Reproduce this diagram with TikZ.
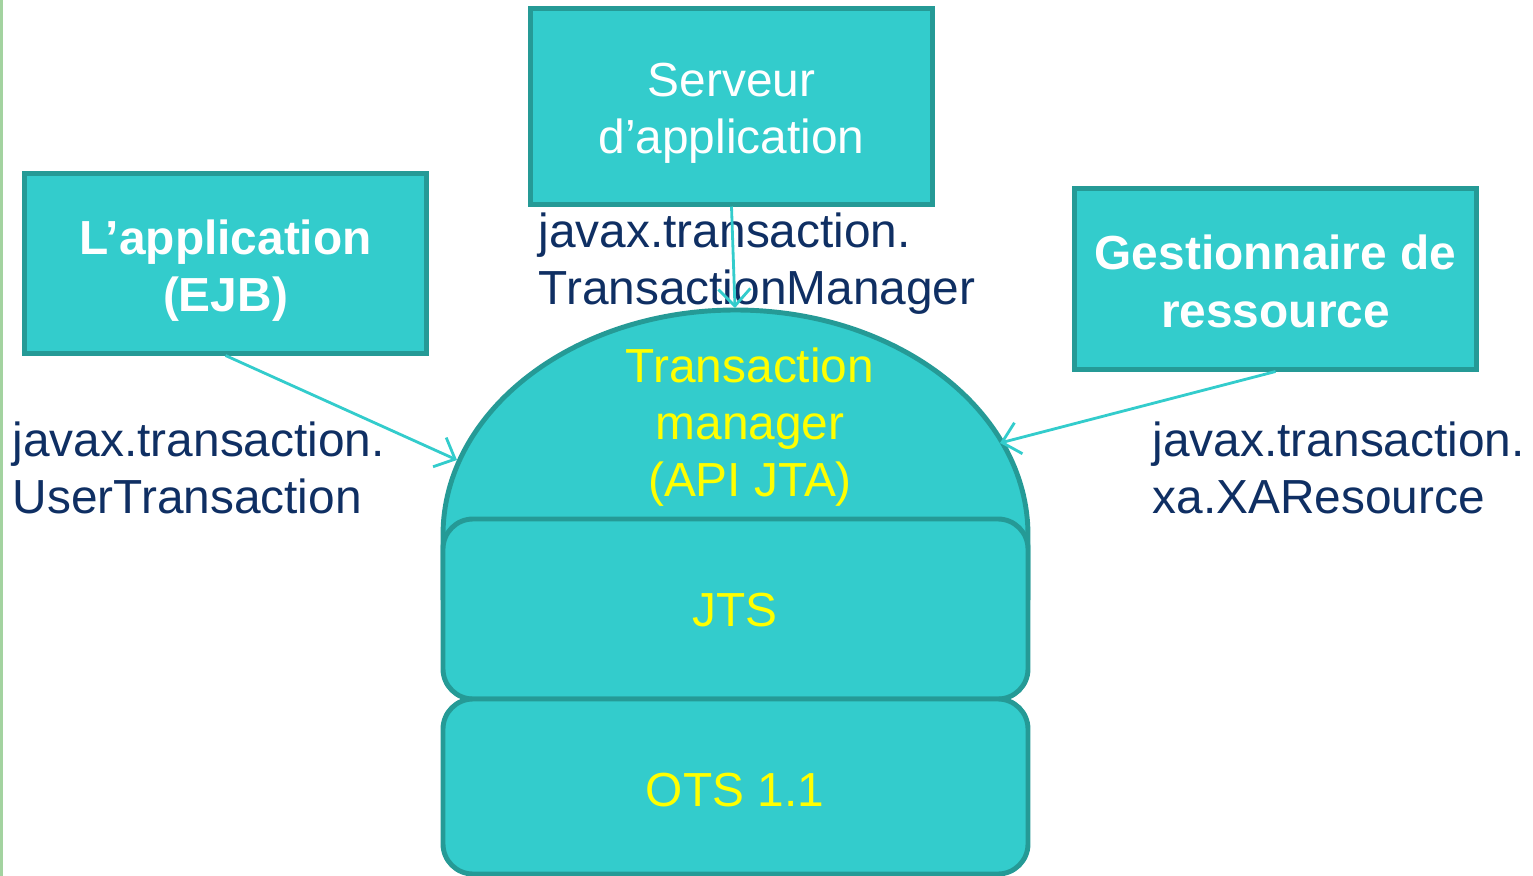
\documentclass[tikz,border=0pt]{standalone}
\usepackage{fontspec}
\setmainfont{Liberation Sans}
\usetikzlibrary{arrows.meta}
\definecolor{boxfill}{HTML}{33CCCC}
\definecolor{boxline}{HTML}{259A96}
\definecolor{darkblue}{HTML}{0F2F63}
\definecolor{yel}{HTML}{FFFF00}
\definecolor{leftgreen}{HTML}{A3D3A0}
\tikzset{
  every node/.style={font=\fontsize{13.6}{16.2}\selectfont},
  topbox/.style={draw=boxline, fill=boxfill, line width=1.4pt,
     minimum width=4.02cm, inner sep=0pt},
  boxtext/.style={text=white, align=center, inner sep=0pt},
  stack/.style={draw=boxline, fill=boxfill, line width=1.4pt, rounded corners=0.3cm},
  ylabel/.style={text=yel, align=center, inner sep=0pt},
  api/.style={text=darkblue, align=left, anchor=west, inner sep=0pt},
  conn/.style={draw=boxfill, line width=0.8pt, -{Straight Barb[length=0.17cm,width=0.32cm]}},
}
\begin{document}
\begin{tikzpicture}[x=0.01cm,y=-0.01cm]
\useasboundingbox (0,0) rectangle (1533,876);
\fill[leftgreen] (0,0) rectangle (3,876);
% dome
\draw[draw=boxline, fill=boxfill, line width=1.4pt]
  (443,600) -- (443,535) arc[start angle=180, end angle=360, x radius=292.5, y radius=225] -- (1028,600);
% stack boxes
\draw[stack] (443,519) rectangle (1028,699);
\draw[stack] (443,699) rectangle (1028,874);
\node[ylabel] (tm) at (750,427) {Transaction\\manager\\(API JTA)};
\node[ylabel] (jts) at (735,610) {JTS};
\node[ylabel] (ots) at (735,790) {OTS 1.1};
% top boxes
\node[topbox, minimum height=1.79cm] (app) at (225.5,263.5) {};
\node[boxtext, font=\fontsize{13.6}{16.4}\selectfont\bfseries] (appt) at ([yshift=-2pt]app.center) {L’application\\(EJB)};
\node[topbox, minimum height=1.95cm] (srv) at (731.5,106.5) {};
\node[boxtext] (srvt) at ([yshift=-2pt]srv.center) {Serveur\\d’application};
\node[topbox, minimum height=1.80cm] (rm) at (1275.5,279) {};
\node[boxtext, font=\fontsize{13.6}{16.4}\selectfont\bfseries] (rmt) at ([yshift=-0.6pt]rm.center) {Gestionnaire de\\ressource};
% API labels
\node[api] (l1) at (12,468) {javax.transaction.\\UserTransaction};
\node[api] (l2) at (538,264) {javax.transaction.\\TransactionManager};
\node[api] (l3) at (1152,468) {javax.transaction.\\xa.XAResource};
% connectors
\coordinate (eL) at (457,460);
\coordinate (eT) at (735,308);
\coordinate (eR) at (1000,443);
\draw[conn] (app.south) -- (eL);
\draw[conn] (srv.south) -- (eT);
\draw[conn] (rm.south) -- (eR);
\end{tikzpicture}
\end{document}
